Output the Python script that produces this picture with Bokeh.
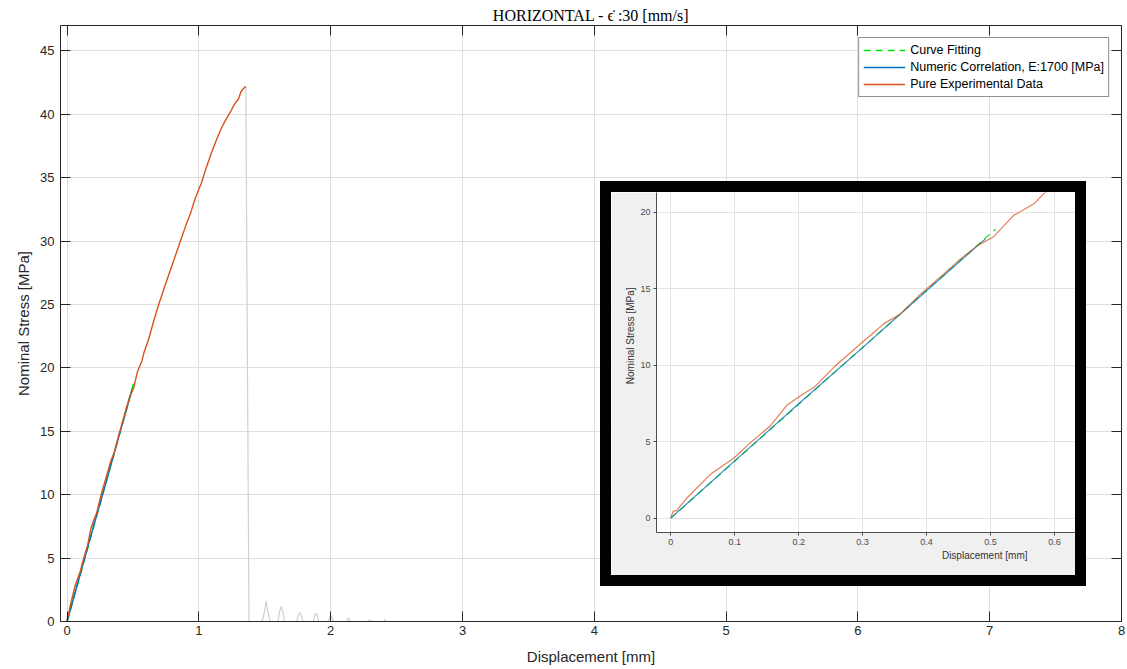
from bokeh.plotting import figure
from bokeh.models import (Range1d, FixedTicker, LinearAxis, Legend, LegendItem,
                          Title, GridBox)
from bokeh.embed import file_html
from bokeh.resources import INLINE

# ---------------- data ----------------
exp_disp = [0.0, 0.004, 0.009, 0.026, 0.0625, 0.099, 0.125, 0.156, 0.182, 0.203,
            0.224, 0.255, 0.297, 0.318, 0.333, 0.359, 0.391, 0.427, 0.453, 0.479,
            0.505, 0.536, 0.568, 0.583, 0.62, 0.66, 0.695, 0.74, 0.78, 0.82,
            0.86, 0.90, 0.94, 0.97, 1.0, 1.02, 1.05, 1.09, 1.13, 1.17,
            1.20, 1.24, 1.27, 1.30, 1.32, 1.345, 1.356]
exp_stress = [0.0, 0.48, 0.48, 1.35, 2.88, 3.93, 4.95, 6.04, 7.4, 8.0,
              8.55, 9.86, 11.4, 12.15, 12.7, 13.35, 14.66, 15.97, 16.95, 17.8,
              18.4, 19.78, 20.55, 21.2, 22.3, 23.8, 25.0, 26.4, 27.6, 28.8,
              30.0, 31.2, 32.3, 33.3, 34.1, 34.6, 35.6, 36.8, 37.9, 38.9,
              39.5, 40.2, 40.8, 41.2, 41.8, 42.1, 42.2]

post_disp = [1.356, 1.38, 1.40, 1.48, 1.50, 1.51, 1.52, 1.54, 1.60, 1.615,
             1.625, 1.635, 1.65, 1.74, 1.755, 1.765, 1.775, 1.79, 1.87, 1.88,
             1.888, 1.896, 1.91, 1.98, 1.995, 2.005, 2.02, 2.12, 2.135, 2.15,
             2.28, 2.296, 2.31, 2.40, 2.41, 2.42, 2.6, 7.6]
post_stress = [42.2, 0.0, 0.0, 0.0, 0.9, 1.6, 0.9, 0.0, 0.0, 0.9,
               1.2, 0.8, 0.0, 0.0, 0.5, 0.7, 0.5, 0.0, 0.0, 0.5,
               0.65, 0.5, 0.0, 0.0, 0.35, 0.42, 0.0, 0.0, 0.3, 0.0,
               0.0, 0.15, 0.0, 0.0, 0.15, 0.0, 0.0, 0.0]

num_disp = [0.0, 0.1, 0.2, 0.3, 0.4, 0.492]
num_stress = [0.0, 3.74, 7.48, 11.15, 14.87, 18.26]

fit_disp = [0.0, 0.1, 0.2, 0.3, 0.4, 0.508]
fit_stress = [0.0, 3.72, 7.44, 11.16, 14.88, 18.9]

x_ticks = [0, 1, 2, 3, 4, 5, 6, 7, 8]
y_ticks = [0, 5, 10, 15, 20, 25, 30, 35, 40, 45]
inset_x_ticks = [0, 0.1, 0.2, 0.3, 0.4, 0.5, 0.6]
inset_y_ticks = [0, 5, 10, 15, 20]

title_text = "HORIZONTAL - \u03f5\u0307 :30 [mm/s]"
x_label = "Displacement [mm]"
y_label = "Nominal Stress [MPa]"
legend_labels = ["Curve Fitting", "Numeric Correlation, E:1700 [MPa]",
                 "Pure Experimental Data"]

# ---------------- styles ----------------
TEXT = "#262626"
GRID = "#dfdfdf"
BLUE = "#0072BD"
ORANGE = "#D95319"
GREEN = "#00E000"
GREY = "#d0d0d0"
SANS = "Liberation Sans"

# ---------------- main figure ----------------
p = figure(width=1117, height=667, x_range=Range1d(-0.05, 8), y_range=Range1d(0, 47),
           output_backend="svg", toolbar_location=None,
           min_border_left=52, min_border_right=4, min_border_top=25,
           min_border_bottom=46, outline_line_color=None,
           background_fill_color="white", border_fill_color="white")
p.title.text = title_text
p.title.align = "center"
p.title.vertical_align = "top"
p.title.text_font = "Liberation Serif"
p.title.text_font_size = "16px"
p.title.text_font_style = "normal"
p.title.text_color = "#000000"
p.title.standoff = 0

p.xaxis.ticker = FixedTicker(ticks=x_ticks)
p.yaxis.ticker = FixedTicker(ticks=y_ticks)
p.xgrid.ticker = FixedTicker(ticks=x_ticks)
p.ygrid.ticker = FixedTicker(ticks=y_ticks)
p.xaxis.axis_label = x_label
p.yaxis.axis_label = y_label
for ax in (p.xaxis[0], p.yaxis[0]):
    ax.axis_line_color = TEXT
    ax.major_tick_line_color = TEXT
    ax.major_tick_in = 10
    ax.major_tick_out = 0
    ax.minor_tick_line_color = None
    ax.major_label_text_font = SANS
    ax.major_label_text_font_size = "13px"
    ax.major_label_text_color = TEXT
    ax.axis_label_text_font = SANS
    ax.axis_label_text_font_size = "15px"
    ax.axis_label_text_font_style = "normal"
    ax.axis_label_text_color = TEXT
p.xaxis.major_label_standoff = 4
p.xaxis.axis_label_standoff = 10
p.yaxis.major_label_standoff = 6
p.yaxis.axis_label_standoff = 5

for loc, tk in (("right", y_ticks), ("above", x_ticks)):
    ax = LinearAxis(ticker=FixedTicker(ticks=tk), major_label_text_font_size="1px",
                    major_label_text_color=None,
                    major_tick_in=10, major_tick_out=0, major_label_standoff=0,
                    minor_tick_line_color=None, axis_line_color=TEXT,
                    major_tick_line_color=TEXT)
    p.add_layout(ax, loc)

p.grid.grid_line_color = GRID
p.grid.grid_line_width = 1

p.line(post_disp, post_stress, line_color=GREY, line_width=1.2)
r_fit = p.line(fit_disp, fit_stress, line_color=GREEN, line_width=1.6, line_dash="7 5")
r_num = p.line(num_disp, num_stress, line_color=BLUE, line_width=1.5)
r_exp = p.line(exp_disp, exp_stress, line_color=ORANGE, line_width=1.4)

legend = Legend(items=[LegendItem(label=legend_labels[0], renderers=[r_fit]),
                       LegendItem(label=legend_labels[1], renderers=[r_num]),
                       LegendItem(label=legend_labels[2], renderers=[r_exp])],
                location="top_right", margin=12, padding=4, spacing=1,
                glyph_width=42, glyph_height=16, label_height=16, label_standoff=5,
                label_text_font=SANS, label_text_font_size="12.5px",
                label_text_color="#000000", border_line_color=TEXT,
                border_line_width=1, background_fill_color="white",
                background_fill_alpha=1)
p.add_layout(legend)

# ---------------- inset figure ----------------
ins = figure(width=464, height=383, x_range=Range1d(-0.0223, 0.633),
             y_range=Range1d(-0.94, 21.29), output_backend="svg",
             toolbar_location=None, min_border_left=45, min_border_right=0,
             min_border_top=0, min_border_bottom=43,
             border_fill_color="#f0f0f0", background_fill_color="white",
             outline_line_color=None)
ins.styles = {"outline": "11px solid black"}
ins.xaxis.ticker = FixedTicker(ticks=inset_x_ticks)
ins.yaxis.ticker = FixedTicker(ticks=inset_y_ticks)
ins.xgrid.ticker = FixedTicker(ticks=inset_x_ticks)
ins.ygrid.ticker = FixedTicker(ticks=inset_y_ticks)
ins.grid.grid_line_color = "#e2e2e2"
for ax in (ins.xaxis[0], ins.yaxis[0]):
    ax.axis_line_color = "#4d4d4d"
    ax.major_tick_line_color = "#4d4d4d"
    ax.major_tick_in = 0
    ax.major_tick_out = 3
    ax.minor_tick_line_color = None
    ax.major_label_text_font = SANS
    ax.major_label_text_font_size = "9px"
    ax.major_label_text_color = "#4d4d4d"
    ax.major_label_standoff = 3
ins.add_layout(Title(text=y_label, align="right", offset=95, standoff=3,
                     text_font=SANS, text_font_size="10px", text_font_style="normal",
                     text_color="#333333"), "left")
ins.add_layout(Title(text=x_label, align="right", offset=48, standoff=0,
                     text_font=SANS, text_font_size="10px", text_font_style="normal",
                     text_color="#333333"), "below")

ins.line(fit_disp, fit_stress, line_color=GREEN, line_width=1.3, line_dash="7 5",
         line_alpha=0.8)
ins.line(num_disp, num_stress, line_color=BLUE, line_width=1.2, line_alpha=0.8)
ins.line(exp_disp, exp_stress, line_color=ORANGE, line_width=1.2, line_alpha=0.75)

grid = GridBox(children=[(p, 0, 0, 3, 3), (ins, 1, 1, 1, 1)],
               rows=["192px", "383px", "92px"], cols=["603px", "464px", "50px"],
               margin=(0, 0, 0, 8))

open("out.html", "w").write(file_html(grid, INLINE))
